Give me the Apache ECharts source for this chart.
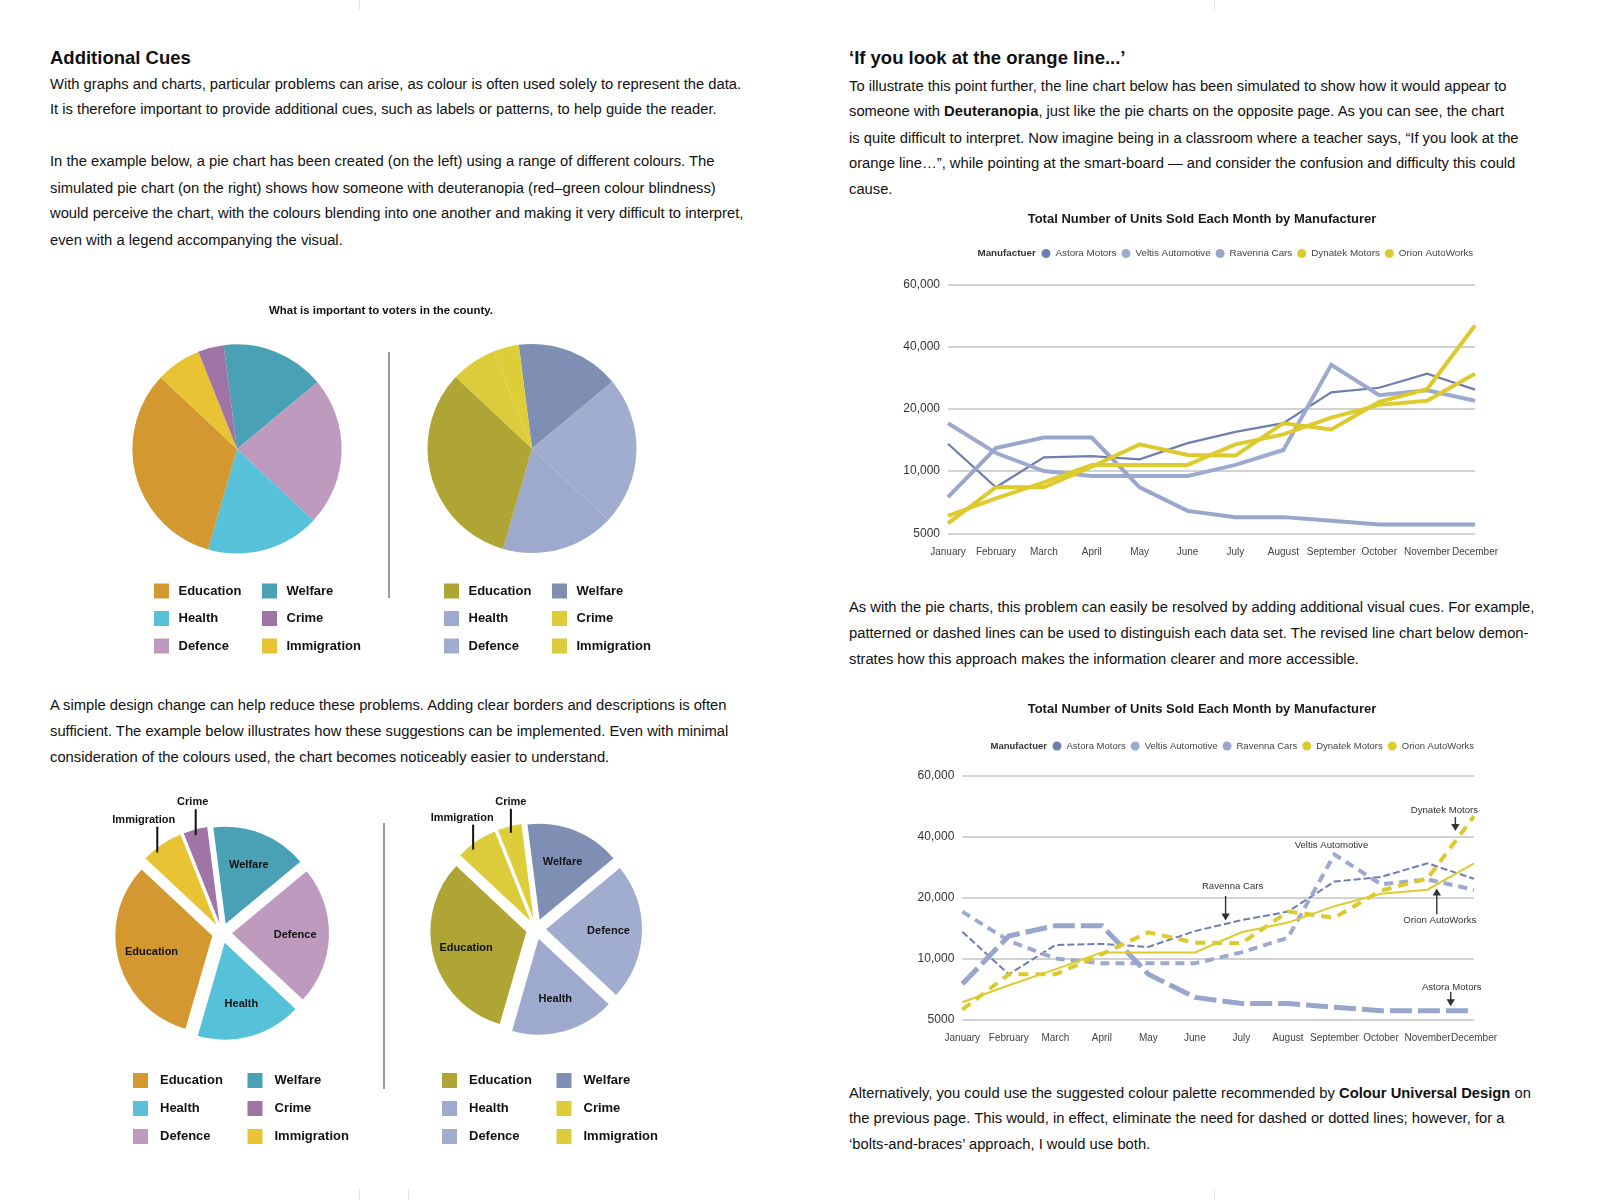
<!DOCTYPE html>
<html>
<head>
<meta charset="utf-8">
<script src="https://cdn.jsdelivr.net/npm/echarts@6/dist/echarts.min.js"></script>
<style>
html,body{margin:0;padding:0;background:#fff;}
#page{position:relative;width:1600px;height:1200px;overflow:hidden;font-family:"Liberation Sans",Arial,Helvetica,sans-serif;color:#111;background:#fff;}
.ln{position:absolute;white-space:nowrap;font-size:14.75px;line-height:18px;height:18px;}
.hd{position:absolute;white-space:nowrap;font-size:18.5px;line-height:22px;font-weight:bold;}
.rule{position:absolute;width:2px;background:#9a9a9a;}
.crop{position:absolute;width:1px;background:#e6e6e6;}
.chart{position:absolute;}
</style>
</head>
<body>
<div id="page">
  <div class="crop" style="left:359px;top:0;height:10px"></div>
  <div class="crop" style="left:1214px;top:0;height:10px"></div>
  <div class="crop" style="left:359px;top:1189px;height:11px"></div>
  <div class="crop" style="left:408px;top:1189px;height:11px"></div>
  <div class="crop" style="left:1214px;top:1189px;height:11px"></div>

  <!-- left column -->
  <div class="hd" style="left:50px;top:47px">Additional Cues</div>
  <div class="ln" style="left:50px;top:75px">With graphs and charts, particular problems can arise, as colour is often used solely to represent the data.</div>
  <div class="ln" style="left:50px;top:100px">It is therefore important to provide additional cues, such as labels or patterns, to help guide the reader.</div>
  <div class="ln" style="left:50px;top:152px">In the example below, a pie chart has been created (on the left) using a range of different colours. The</div>
  <div class="ln" style="left:50px;top:179px">simulated pie chart (on the right) shows how someone with deuteranopia (red–green colour blindness)</div>
  <div class="ln" style="left:50px;top:204px">would perceive the chart, with the colours blending into one another and making it very difficult to interpret,</div>
  <div class="ln" style="left:50px;top:231px">even with a legend accompanying the visual.</div>
  <div class="ln" style="left:50px;top:696px">A simple design change can help reduce these problems. Adding clear borders and descriptions is often</div>
  <div class="ln" style="left:50px;top:722px">sufficient. The example below illustrates how these suggestions can be implemented. Even with minimal</div>
  <div class="ln" style="left:50px;top:748px">consideration of the colours used, the chart becomes noticeably easier to understand.</div>

  <div class="rule" style="left:388px;top:352px;height:246px"></div>
  <div class="rule" style="left:383px;top:823px;height:266px"></div>

  <!-- right column -->
  <div class="hd" style="left:849px;top:47px">‘If you look at the orange line...’</div>
  <div class="ln" style="left:849px;top:77px">To illustrate this point further, the line chart below has been simulated to show how it would appear to</div>
  <div class="ln" style="left:849px;top:102px">someone with <b>Deuteranopia</b>, just like the pie charts on the opposite page. As you can see, the chart</div>
  <div class="ln" style="left:849px;top:129px">is quite difficult to interpret. Now imagine being in a classroom where a teacher says, “If you look at the</div>
  <div class="ln" style="left:849px;top:154px">orange line…”, while pointing at the smart-board — and consider the confusion and difficulty this could</div>
  <div class="ln" style="left:849px;top:180px">cause.</div>
  <div class="ln" style="left:849px;top:598px">As with the pie charts, this problem can easily be resolved by adding additional visual cues. For example,</div>
  <div class="ln" style="left:849px;top:624px">patterned or dashed lines can be used to distinguish each data set. The revised line chart below demon-</div>
  <div class="ln" style="left:849px;top:650px">strates how this approach makes the information clearer and more accessible.</div>
  <div class="ln" style="left:849px;top:1084px">Alternatively, you could use the suggested colour palette recommended by <b>Colour Universal Design</b> on</div>
  <div class="ln" style="left:849px;top:1109px">the previous page. This would, in effect, eliminate the need for dashed or dotted lines; however, for a</div>
  <div class="ln" style="left:849px;top:1135px">‘bolts-and-braces’ approach, I would use both.</div>

  <div id="pieTL" class="chart" style="left:100px;top:280px;width:562px;height:400px"></div>
  <div id="pieTR" class="chart" style="left:100px;top:280px;width:562px;height:400px"></div>
  <div id="pieBL" class="chart" style="left:100px;top:770px;width:560px;height:400px"></div>
  <div id="pieBR" class="chart" style="left:100px;top:770px;width:560px;height:400px"></div>
  <div id="lineTop" class="chart" style="left:852px;top:190px;width:700px;height:400px"></div>
  <div id="lineBottom" class="chart" style="left:852px;top:680px;width:700px;height:390px"></div>
</div>

<script>
// ---------------- DATA ----------------
const pieTitle = 'What is important to voters in the county.';
const pieNames = ['Welfare', 'Defence', 'Health', 'Education', 'Immigration', 'Crime'];
const pieShares = [16, 23, 17.5, 32.5, 7, 4];
const legendCol1 = ['Education', 'Health', 'Defence'];
const legendCol2 = ['Welfare', 'Crime', 'Immigration'];

const lineTitle = 'Total Number of Units Sold Each Month by Manufacturer';
const legendHeading = 'Manufactuer';
const months = ['January', 'February', 'March', 'April', 'May', 'June', 'July', 'August', 'September', 'October', 'November', 'December'];
const manufacturers = ['Astora Motors', 'Veltis Automotive', 'Ravenna Cars', 'Dynatek Motors', 'Orion AutoWorks'];
const astoraUnits  = [14400, 8700, 12200, 12400, 11900, 14500, 16300, 17700, 25300, 26800, 31300, 26200];
const veltisUnits  = [17700, 12900, 10000, 9600, 9600, 9600, 11000, 13400, 34200, 24400, 26000, 22600];
const ravennaUnits = [7900, 13700, 15400, 15400, 8700, 6800, 6300, 6300, 6000, 5700, 5700, 5700];
const dynatekUnits = [5800, 8700, 8700, 10700, 14300, 12600, 12500, 17700, 16700, 22300, 26300, 46800];
const orionUnits   = [6400, 7800, 9100, 11000, 11000, 11000, 14300, 15900, 18600, 21300, 22600, 31300];
const yTickValues = [5000, 10000, 20000, 40000, 60000];
const yTickLabels = ['5000', '10,000', '20,000', '40,000', '60,000'];

// ---------------- STYLE ----------------
const FONT = '"Liberation Sans", Arial, Helvetica, sans-serif';
const pieStartAngle = 97.3;
const normalColors = {Education:'#D3982F', Health:'#58C1DA', Defence:'#BE9BBE', Welfare:'#4AA0B5', Crime:'#A074A5', Immigration:'#E8C434'};
const deutColors   = {Education:'#AFA534', Health:'#9DAACD', Defence:'#A0ADCF', Welfare:'#7F8EB3', Crime:'#DDCD38', Immigration:'#DCCB3A'};
const unitsByMaker = [astoraUnits, veltisUnits, ravennaUnits, dynatekUnits, orionUnits];
const lineColors = ['#6E7FAF', '#9DAACF', '#98A6CB', '#DCCA2C', '#DDCB30'];
const plainStyles = [{width:2.2}, {width:4}, {width:4}, {width:4}, {width:4}];
const cueStyles = [{width:2, type:[7,3]}, {width:4, type:[9,6]}, {width:5, type:[22,6]}, {width:4, type:[10,7]}, {width:2}];

function toAxis(v) {
  for (let i = 0; i < yTickValues.length - 1; i++) {
    const a = yTickValues[i], b = yTickValues[i + 1];
    if (v <= b || i === yTickValues.length - 2) return i + (v - a) / (b - a);
  }
}

// ---------------- PIES ----------------
function legendCol(left, top, names, gap, pad) {
  return {
    orient:'vertical', left:left, top:top, padding:0, icon:'rect', itemWidth:15, itemHeight:15, itemGap:gap,
    selectedMode:false, data:names,
    textStyle:{fontFamily:FONT, fontSize:13, fontWeight:'bold', color:'#111', lineHeight:15, padding:[0,0,0,pad]}
  };
}

function pieOption(cfg) {
  const series = [{
    type:'pie', center:cfg.center, radius:cfg.r, startAngle:pieStartAngle, clockwise:true,
    selectedMode: cfg.exploded ? 'multiple' : false, selectedOffset:10, silent:true,
    emphasis:{disabled:true}, label:{show:false}, labelLine:{show:false},
    data: pieNames.map((n, i) => ({name:n, value:pieShares[i], selected:!!cfg.exploded, itemStyle:{color:cfg.colors[n]}}))
  }];
  if (cfg.exploded) {
    series.push({
      type:'pie', center:cfg.center, radius:[0.42 * cfg.r, 0.82 * cfg.r], startAngle:pieStartAngle, clockwise:true,
      selectedMode:'multiple', selectedOffset:10, silent:true, emphasis:{disabled:true},
      itemStyle:{color:'rgba(0,0,0,0)'},
      label:{show:true, position:'inside', fontFamily:FONT, fontSize:11, fontWeight:'bold', color:'#111', textBorderWidth:0},
      labelLine:{show:false},
      labelLayout: function (p) {
        const c = cfg.callouts[pieNames[p.dataIndex]];
        return c ? {dx:c.dx, dy:c.dy} : {};
      },
      data: pieNames.map((n, i) => {
        const d = {name:n, value:pieShares[i], selected:true};
        const c = cfg.callouts[n];
        if (c) {
          d.label = {
            formatter: '{t|' + n + '}\n{g| }{l| }',
            rich: {
              t:{fontFamily:FONT, fontSize:11, fontWeight:'bold', color:'#111', lineHeight:14, align:'center'},
              g:{width:c.gap, height:c.len, lineHeight:c.len, fontSize:1, align:'center'},
              l:{width:2, height:c.len, lineHeight:c.len, fontSize:1, backgroundColor:'#111', align:'center'}
            }
          };
        }
        return d;
      })
    });
  }
  const opt = {
    animation:false,
    legend:[legendCol(cfg.leg1[0], cfg.leg1[1], legendCol1, cfg.gap, cfg.pad), legendCol(cfg.leg2[0], cfg.leg2[1], legendCol2, cfg.gap, cfg.pad)],
    series:series
  };
  if (cfg.title) {
    opt.title = {text:pieTitle, left:'center', top:24, padding:0,
      textStyle:{fontFamily:FONT, fontSize:11.4, fontWeight:'bold', color:'#111', lineHeight:14}};
  }
  return opt;
}

echarts.init(document.getElementById('pieTL')).setOption(pieOption({
  title:true, center:[137, 169], r:104.6, colors:normalColors,
  leg1:[54, 303.5], leg2:[162, 303.5], gap:12.5, pad:4.5
}));
echarts.init(document.getElementById('pieTR')).setOption(pieOption({
  center:[432, 168.5], r:104.5, colors:deutColors,
  leg1:[344, 303.5], leg2:[452, 303.5], gap:12.5, pad:4.5
}));
echarts.init(document.getElementById('pieBL')).setOption(pieOption({
  exploded:true, center:[122, 163], r:97, colors:normalColors,
  leg1:[33, 303], leg2:[147.5, 303], gap:13, pad:7,
  callouts:{Crime:{dx:-11, dy:-47, gap:6, len:26}, Immigration:{dx:-37, dy:-40, gap:27, len:26}}
}));
echarts.init(document.getElementById('pieBR')).setOption(pieOption({
  exploded:true, center:[436, 159], r:96, colors:deutColors,
  leg1:[342, 303], leg2:[456.5, 303], gap:13, pad:7,
  callouts:{Crime:{dx:-7, dy:-45, gap:0.1, len:24}, Immigration:{dx:-33, dy:-39, gap:22, len:25}}
}));

// ---------------- LINES ----------------
function lineOption(cfg) {
  return {
    animation:false,
    title:[
      {text:lineTitle, left:'center', top:cfg.titleTop, padding:0,
        textStyle:{fontFamily:FONT, fontSize:13, fontWeight:'bold', color:'#1a1a1a', lineHeight:16}},
      {text:legendHeading, left:cfg.headX, top:cfg.legendTop, padding:0,
        textStyle:{fontFamily:FONT, fontSize:cfg.legendFont, fontWeight:'bold', color:'#333', lineHeight:12}}
    ],
    legend:{left:cfg.legendX, top:cfg.legendTop, padding:0, icon:'circle', itemWidth:9, itemHeight:9, itemGap:cfg.legendGap,
      selectedMode:false, data:manufacturers,
      textStyle:{fontFamily:FONT, fontSize:cfg.legendFont, color:'#444', lineHeight:12}},
    grid:{left:cfg.grid[0], top:cfg.grid[1], width:cfg.grid[2], height:cfg.grid[3]},
    xAxis:{type:'category', data:months, boundaryGap:false,
      axisLine:{show:false}, axisTick:{show:false}, splitLine:{show:false},
      axisLabel:{fontFamily:FONT, fontSize:10, color:'#444', margin:14, interval:0}},
    yAxis:{type:'value', min:0, max:4, interval:1,
      axisLine:{show:false}, axisTick:{show:false},
      splitLine:{lineStyle:{color:'#c3c3c3', width:1.5}},
      axisLabel:{fontFamily:FONT, fontSize:12, color:'#333', margin:8, formatter:(v) => yTickLabels[Math.round(v)]}},
    series: manufacturers.map((name, i) => ({
      type:'line', name:name, data:unitsByMaker[i].map(toAxis), showSymbol:false, symbol:'none', silent:true,
      color:lineColors[i], itemStyle:{color:lineColors[i]},
      lineStyle:Object.assign({color:lineColors[i], cap:'butt', join:'miter'}, cfg.styles[i]),
      emphasis:{disabled:true}
    }))
  };
}

echarts.init(document.getElementById('lineTop')).setOption(lineOption({
  titleTop:21.5, headX:125.5, legendX:189.5, legendTop:57.5, legendFont:9.8, legendGap:5,
  grid:[96, 94.5, 527, 248.8], styles:plainStyles
}));

const bottomChart = echarts.init(document.getElementById('lineBottom'));
bottomChart.setOption(lineOption({
  titleTop:21, headX:138.5, legendX:200.5, legendTop:60, legendFont:9.5, legendGap:5,
  grid:[110.3, 96, 511.7, 243.3], styles:cueStyles
}));

// annotations anchored to series points through the chart's own scales
const annotations = [
  {text:'Dynatek Motors', series:3, from:10, to:11, t:0.6, dir:'down', gap:10, len:14, textGap:-6.3, dx:-11},
  {text:'Veltis Automotive', series:1, from:8, to:8, t:0, dir:'none', textGap:-9.5, dx:-3},
  {text:'Ravenna Cars', series:0, from:5, to:6, t:0.66, dir:'down', gap:3.5, len:24.4, textGap:-9.6, dx:7},
  {text:'Orion AutoWorks', series:4, from:10, to:11, t:0.2, dir:'up', gap:4, len:25.7, textGap:6.6, dx:3},
  {text:'Astora Motors', series:2, from:10, to:11, t:0.5, dir:'down', gap:4.6, len:14.3, textGap:-4.4, dx:1}
];
const gEls = [];
annotations.forEach(a => {
  const vals = unitsByMaker[a.series];
  const p1 = bottomChart.convertToPixel({seriesIndex:a.series}, [a.from, toAxis(vals[a.from])]);
  const p2 = bottomChart.convertToPixel({seriesIndex:a.series}, [a.to, toAxis(vals[a.to])]);
  const x = p1[0] + (p2[0] - p1[0]) * a.t;
  const y = p1[1] + (p2[1] - p1[1]) * a.t;
  let textY;
  if (a.dir === 'down') {
    const tip = y - a.gap, tail = tip - a.len;
    gEls.push({type:'line', shape:{x1:x, y1:tail, x2:x, y2:tip - 5}, style:{stroke:'#333', lineWidth:1.4}, silent:true, z:100});
    gEls.push({type:'polygon', shape:{points:[[x - 4.2, tip - 7], [x + 4.2, tip - 7], [x, tip]]}, style:{fill:'#333'}, silent:true, z:100});
    textY = tail + a.textGap;
  } else if (a.dir === 'up') {
    const tip = y + a.gap, tail = tip + a.len;
    gEls.push({type:'line', shape:{x1:x, y1:tail, x2:x, y2:tip + 5}, style:{stroke:'#333', lineWidth:1.4}, silent:true, z:100});
    gEls.push({type:'polygon', shape:{points:[[x - 4.2, tip + 7], [x + 4.2, tip + 7], [x, tip]]}, style:{fill:'#333'}, silent:true, z:100});
    textY = tail + a.textGap;
  } else {
    textY = y + a.textGap;
  }
  gEls.push({type:'text', x:x + a.dx, y:textY, silent:true, z:100,
    style:{text:a.text, fill:'#333', font:'9.6px "Liberation Sans", Arial, sans-serif',
      align:'center', verticalAlign:'middle', textAlign:'center', textVerticalAlign:'middle'}});
});
bottomChart.setOption({graphic:{elements:gEls}});
</script>
</body>
</html>
